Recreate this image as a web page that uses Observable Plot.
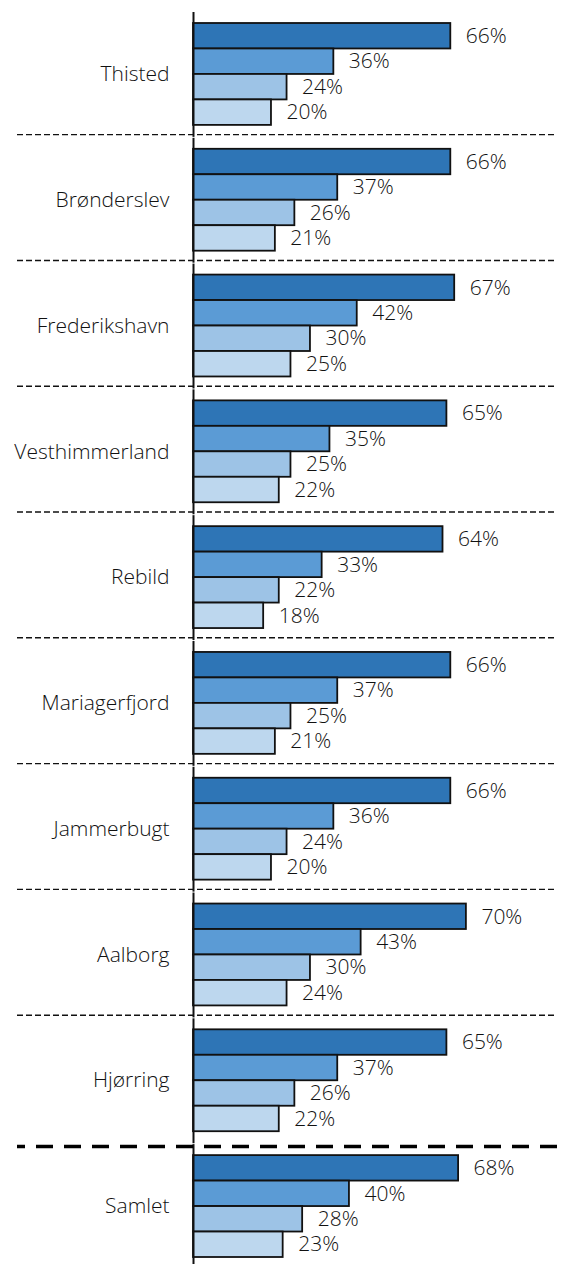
<!DOCTYPE html>
<html><head><meta charset="utf-8">
<script src="https://cdn.jsdelivr.net/npm/d3@7"></script>
<script src="https://cdn.jsdelivr.net/npm/@observablehq/plot@0.6"></script>
<style>body{margin:0;background:#fff}</style>
</head><body><div id="chart"></div>
<script>
const groups = ["Thisted","Brønderslev","Frederikshavn","Vesthimmerland","Rebild","Mariagerfjord","Jammerbugt","Aalborg","Hjørring","Samlet"];
const seriesNames = ["Serie 1","Serie 2","Serie 3","Serie 4"];
const serie1 = [66,66,67,65,64,66,66,70,65,68];
const serie2 = [36,37,42,35,33,37,36,43,37,40];
const serie3 = [24,26,30,25,22,25,24,30,26,28];
const serie4 = [20,21,25,22,18,21,20,24,22,23];
const colors = ["#2E75B6","#5B9BD5","#9DC3E6","#BDD7EE"];
const thinSeparatorAfter = groups.slice(0,8);
const thickSeparatorAfter = ["Hjørring"];

const seriesValues = [serie1, serie2, serie3, serie4];
const rows = groups.flatMap((g,gi)=> seriesNames.map((s,si)=>({group:g, series:s, value: seriesValues[si][gi]})));

const chart = Plot.plot({
  width: 577, height: 1264,
  marginLeft: 193, marginRight: 0, marginTop: 23, marginBottom: 7,
  style: {fontFamily: "'Open Sans', sans-serif", fontSize: "21px", fontWeight: 300, color: "#111", background: "#fff"},
  x: {domain: [0, 98.5], axis: null},
  y: {domain: seriesNames, axis: null, padding: 0, round: false},
  fy: {domain: groups, paddingInner: 0.19, paddingOuter: 0, round: false, axis: "left", tickSize: 0, tickPadding: 24, label: null},
  color: {domain: seriesNames, range: colors},
  marks: [
    Plot.barX(rows, {x: "value", y: "series", fy: "group", fill: "series", stroke: "#111", strokeWidth: 1.8}),
    Plot.text(rows, {x: "value", y: "series", fy: "group", text: d => d.value + "%", textAnchor: "start", dx: 15, fill: "#111"}),
    Plot.ruleX([0], {stroke: "#111", strokeWidth: 2, insetTop: -11, insetBottom: -12}),
    Plot.ruleY(thinSeparatorAfter, {fy: d => d, y: () => seriesNames[3], dy: 22, insetLeft: -176, insetRight: 20, stroke: "#111", strokeWidth: 1.4, strokeDasharray: "6,3"}),
    Plot.ruleY(thickSeparatorAfter, {fy: d => d, y: () => seriesNames[3], dy: 27.5, insetLeft: -176, insetRight: 20, stroke: "#000", strokeWidth: 3.5, strokeDasharray: "17,11", strokeDashoffset: 9})
  ]
});
document.getElementById("chart").appendChild(chart);
</script>
</body></html>
